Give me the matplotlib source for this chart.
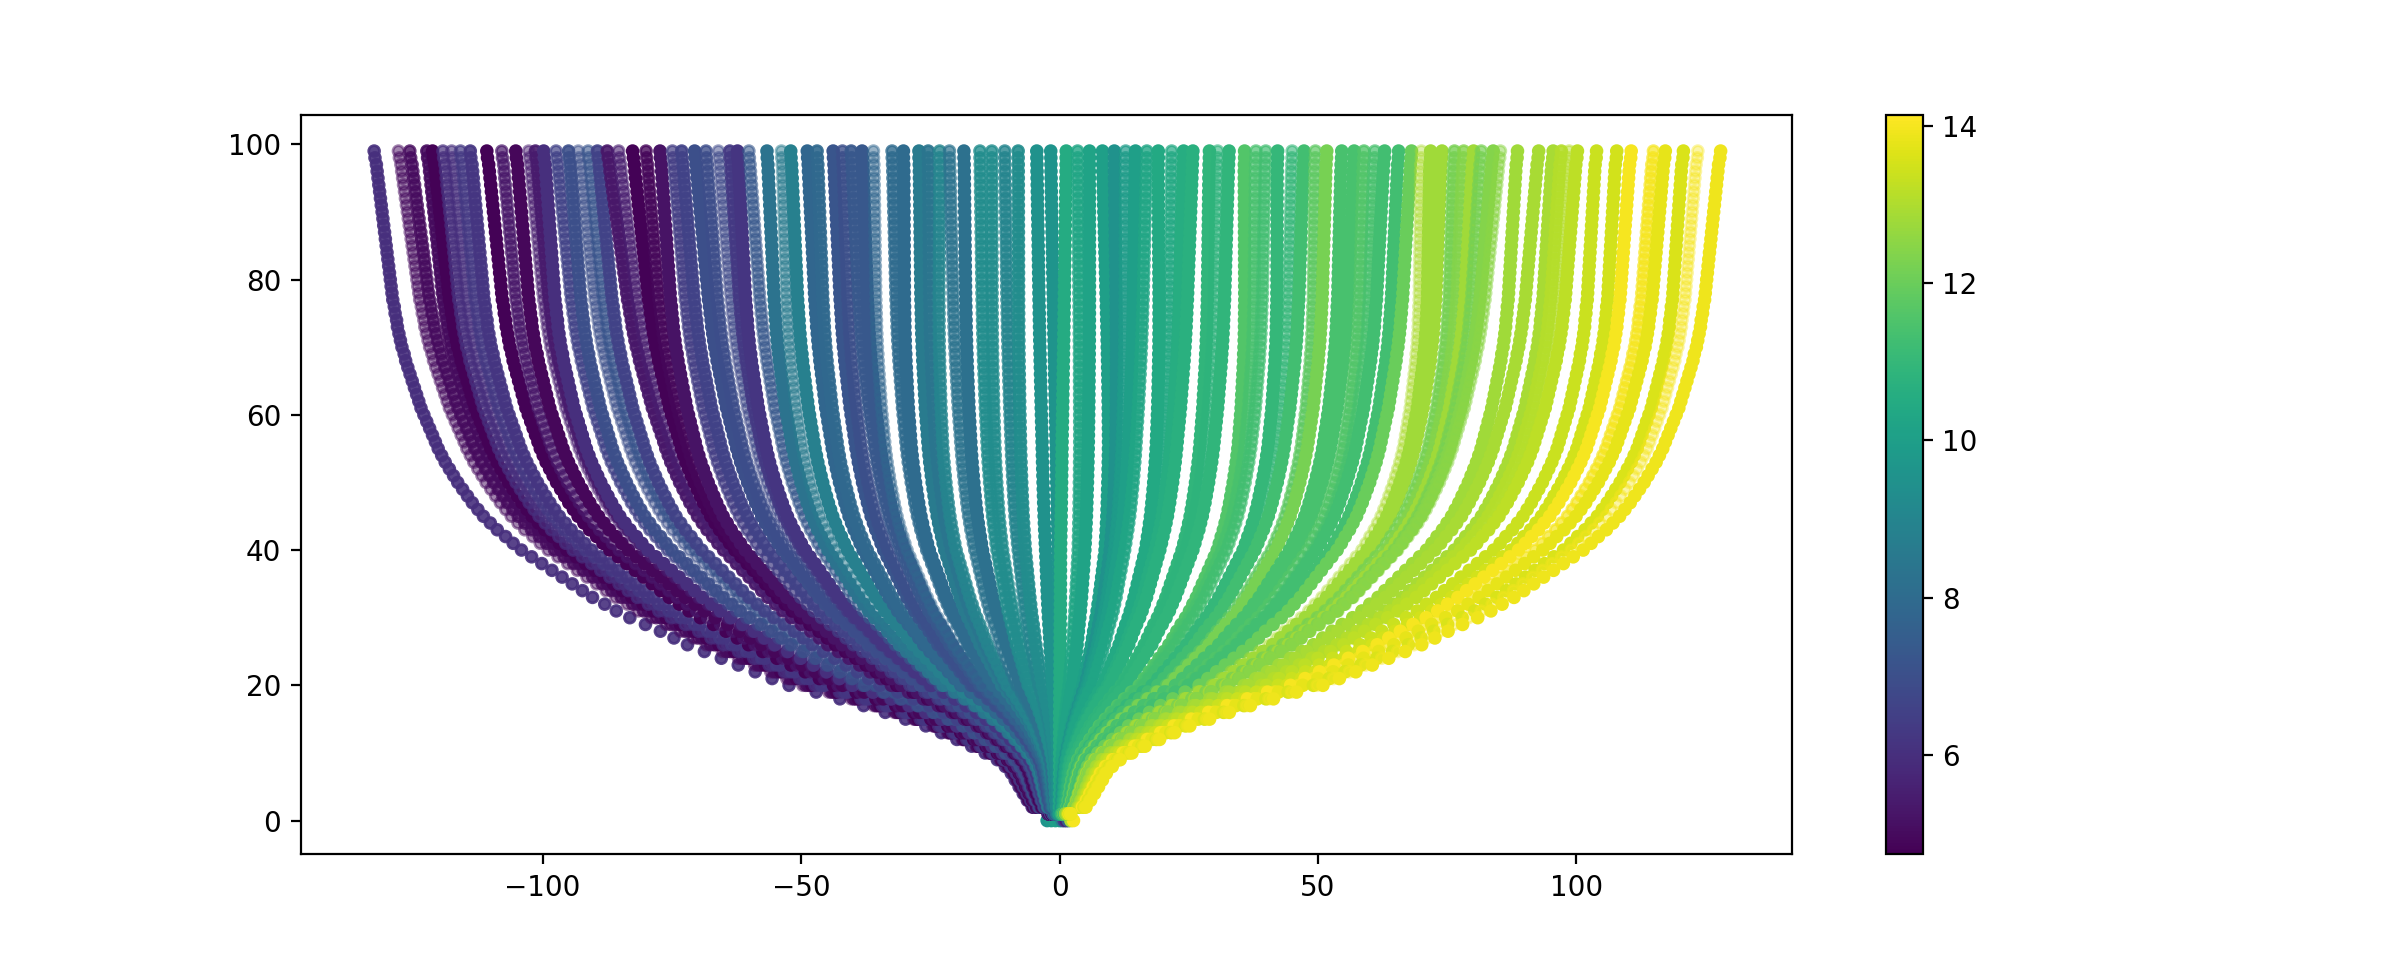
import numpy as np
import matplotlib
matplotlib.use('Agg')
import matplotlib.pyplot as plt

end_x = [-132.6, -127.9, -125.7, -122.4, -121.3, -119.3, -117.6, -115.9, -114.0, -110.8,
         -107.9, -105.2, -102.7, -101.4, -99.8, -97.4, -95.0, -93.1, -91.2, -89.4,
         -87.5, -85.3, -82.6, -80.0, -77.3, -74.9, -73.1, -70.6, -68.4, -66.0,
         -63.8, -62.3, -60.1, -56.6, -53.8, -52.0, -48.8, -46.9, -43.8, -42.0,
         -40.3, -38.2, -36.0, -32.4, -30.2, -27.2, -25.4, -23.2, -21.3, -18.5,
         -15.4, -13.1, -10.6, -8.0, -4.4, -1.7, 1.3, 3.5, 5.8, 8.3,
         10.6, 12.8, 14.7, 16.9, 19.1, 21.7, 24.0, 25.8, 29.0, 30.6,
         32.8, 35.8, 38.0, 39.9, 42.2, 45.0, 47.3, 49.5, 51.7, 54.6,
         57.0, 58.9, 61.0, 62.9, 65.6, 68.1, 70.0, 71.8, 74.0, 76.4,
         78.2, 80.1, 81.6, 83.9, 85.3, 88.6, 92.7, 95.5, 97.1, 98.6,
         100.2, 103.9, 107.8, 110.6, 114.9, 117.2, 120.7, 123.5, 127.9]
mid_x = [-104.1, -98.9, -97.7, -96.5, -95.3, -94.1, -92.9, -91.7, -90.5, -87.0,
         -85.2, -83.4, -80.4, -79.9, -79.6, -75.8, -75.0, -71.5, -70.5, -69.2,
         -65.0, -64.0, -62.8, -62.0, -60.8, -57.7, -56.3, -53.6, -52.8, -50.3,
         -49.7, -49.2, -46.0, -44.8, -43.4, -41.0, -38.0, -37.2, -34.0, -33.2,
         -30.7, -30.0, -29.5, -25.7, -25.2, -22.2, -20.9, -20.0, -16.4, -14.9,
         -12.1, -11.0, -8.0, -6.6, -2.7, -0.3, 0.2, 3.6, 4.9, 8.8,
         9.8, 10.6, 11.5, 12.6, 16.6, 17.6, 18.5, 19.4, 23.7, 24.4,
         25.8, 30.5, 31.4, 32.3, 35.5, 36.5, 37.8, 41.0, 41.8, 44.5,
         45.6, 48.0, 49.2, 49.7, 52.4, 53.7, 58.5, 59.5, 60.0, 62.4,
         63.2, 64.0, 64.8, 65.2, 65.4, 71.0, 72.6, 76.4, 77.6, 78.5,
         79.5, 84.0, 87.4, 88.8, 92.0, 93.5, 97.5, 99.0, 101.3]
colour_val = [6.0, 5.0, 5.0, 5.0, 4.8, 6.0, 6.0, 6.3, 6.2, 4.8,
              5.3, 4.9, 5.5, 5.4, 6.0, 6.6, 7.0, 7.0, 7.2, 6.6,
              5.3, 5.5, 4.8, 4.9, 5.2, 6.4, 6.6, 7.0, 6.9, 6.8,
              6.3, 6.2, 7.3, 8.3, 8.6, 8.8, 7.8, 7.9, 7.2, 7.0,
              7.3, 7.3, 7.8, 8.0, 8.0, 8.6, 8.4, 9.0, 8.3, 8.2,
              9.3, 9.3, 9.0, 9.3, 9.5, 9.6, 10.5, 10.3, 10.2, 10.0,
              9.5, 9.9, 10.0, 10.3, 10.4, 10.4, 10.6, 10.7, 10.9, 10.8,
              10.9, 11.6, 11.4, 11.3, 11.0, 11.0, 11.3, 11.8, 12.2, 11.4,
              11.4, 11.6, 11.4, 11.3, 11.3, 12.0, 13.0, 12.8, 12.8, 12.2,
              12.4, 12.8, 12.2, 12.4, 12.5, 12.8, 12.9, 12.9, 13.1, 13.1,
              13.2, 13.4, 13.5, 14.0, 14.0, 13.8, 13.6, 14.0, 13.9]
opacity = [0.9, 0.5, 0.8, 0.9, 1.0, 0.7, 0.6, 0.7, 0.9, 1.0,
           0.7, 1.0, 0.5, 0.9, 1.0, 0.7, 0.9, 0.5, 0.6, 0.9,
           0.9, 0.6, 1.0, 0.8, 1.0, 0.7, 0.9, 1.0, 0.8, 0.5,
           0.9, 1.0, 0.6, 1.0, 0.5, 1.0, 1.0, 0.9, 1.0, 0.8,
           0.9, 1.0, 0.5, 0.8, 1.0, 1.0, 0.9, 0.8, 0.7, 1.0,
           0.8, 0.8, 0.8, 0.9, 1.0, 1.0, 1.0, 0.8, 1.0, 1.0,
           1.0, 0.7, 1.0, 0.8, 1.0, 0.7, 1.0, 1.0, 1.0, 0.6,
           1.0, 1.0, 0.7, 0.7, 1.0, 0.6, 1.0, 0.7, 1.0, 1.0,
           1.0, 0.8, 0.7, 1.0, 1.0, 1.0, 0.4, 1.0, 1.0, 0.8,
           0.8, 1.0, 0.7, 1.0, 0.5, 1.0, 1.0, 1.0, 0.9, 0.5,
           1.0, 1.0, 1.0, 1.0, 0.7, 1.0, 1.0, 0.4, 1.0]

# share of the top x reached at each row
rows = list(range(1, 100))
spread = [.017, .040, .047, .053, .059, .065, .071, .080, .092, .110,
          .130, .152, .175, .198, .228, .258, .290, .325, .360, .400,
          .425, .450, .475, .500, .525, .550, .570, .590, .612, .635,
          .655, .672, .690, .705, .720, .735, .750, .765, .780, .795,
          .807, .818, .830, .840, .850, .858, .866, .873, .880, .887,
          .893, .899, .905, .910, .915, .919, .923, .927, .931, .935,
          .939, .942, .945, .948, .951, .954, .957, .960, .962, .965,
          .967, .969, .971, .972, .974, .975, .977, .978, .979, .980,
          .981, .982, .983, .984, .985, .986, .987, .988, .989, .990,
          .991, .992, .993, .994, .995, .996, .997, .999, 1.0]
# how far the height-40 reading pulls each row
pull = [0, 0, 0, 0, 0, .03, .06, .09, .12, .15,
        .18, .22, .26, .30, .34, .38, .42, .46, .50, .54,
        .57, .60, .63, .66, .69, .72, .75, .77, .79, .81,
        .83, .85, .87, .89, .91, .93, .95, .97, .985, 1.0,
        .99, .98, .97, .96, .95, .94, .93, .92, .91, .90,
        .89, .88, .87, .86, .85, .84, .82, .80, .78, .76,
        .74, .72, .70, .68, .66, .64, .62, .60, .58, .56,
        .54, .52, .50, .48, .46, .44, .42, .40, .38, .36,
        .34, .32, .30, .28, .26, .24, .22, .20, .18, .16,
        .14, .12, .10, .08, .06, .04, .03, .02, 0]

# the bottom row is not in colour order
bottom_x = [-2.4, -1.6, -0.8, 0.0, 0.5, 0.9, 1.3, 1.7, 2.2, 2.7]
bottom_c = [9.6, 9.8, 10.0, 9.9, 8.6, 6.5, 5.6, 7.5, 13.0, 14.0]

end_arr = np.array(end_x)
off = np.array(mid_x) - end_arr * spread[rows.index(40)]
xs = (np.outer(end_arr, spread) + np.outer(off, pull)).ravel()
ys = np.tile(rows, len(end_x))
cs = np.repeat(colour_val, len(rows))
al = np.repeat(opacity, len(rows))

fig = plt.figure(figsize=(2406 / 200, 960 / 200), dpi=200)
ax = fig.add_subplot(111)
ax.scatter(bottom_x, np.zeros(len(bottom_x)), c=bottom_c, s=15, vmin=4.73, vmax=14.14)
sc = ax.scatter(xs, ys, c=cs, s=15, alpha=al, vmin=4.73, vmax=14.14)
cb = fig.colorbar(sc, ax=ax)
ax.set_xlim(-146.8, 141.8)
ax.set_ylim(-5, 104.3)

plt.savefig('out.png', dpi=200)
